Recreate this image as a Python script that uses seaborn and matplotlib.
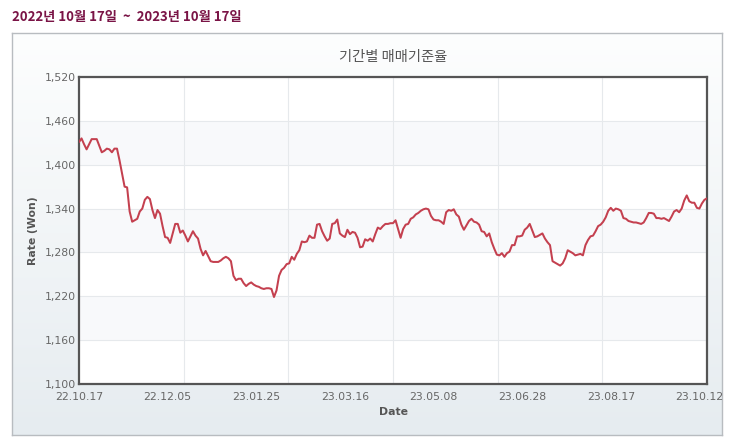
import numpy as np
import pandas as pd
import matplotlib
matplotlib.use("Agg")
import matplotlib.pyplot as plt
from matplotlib.colors import LinearSegmentedColormap
import seaborn as sns

# ---- data (USD/KRW daily base rate, one value per business day) ----
rates = [
    1431, 1436, 1428, 1421, 1428, 1435, 1435, 1435, 1426, 1417,
    1419, 1422, 1421, 1417, 1422, 1422, 1406, 1388, 1370, 1369,
    1336, 1322, 1324, 1326, 1336, 1340, 1352, 1356, 1353, 1338,
    1327, 1338, 1333, 1316, 1301, 1300, 1293, 1306, 1319, 1319,
    1307, 1310, 1303, 1295, 1302, 1309, 1303, 1299, 1285, 1276,
    1282, 1275, 1268, 1267, 1267, 1267, 1269, 1272, 1274, 1272,
    1268, 1248, 1242, 1244, 1244, 1238, 1234, 1237, 1239, 1236,
    1234, 1233, 1231, 1230, 1231, 1231, 1230, 1219, 1228, 1248,
    1256, 1259, 1264, 1265, 1274, 1270, 1278, 1283, 1295, 1294,
    1295, 1303, 1300, 1300, 1318, 1319, 1309, 1302, 1296, 1299,
    1319, 1320, 1325, 1306, 1303, 1301, 1311, 1305, 1308, 1307,
    1300, 1287, 1288, 1298, 1296, 1299, 1295, 1305, 1314, 1312,
    1316, 1319, 1319, 1320, 1320, 1324, 1312, 1300, 1312, 1318,
    1319, 1326, 1328, 1332, 1334, 1337, 1339, 1340, 1339, 1330,
    1325, 1324, 1324, 1322, 1319, 1335, 1338, 1337, 1339, 1332,
    1329, 1318, 1311, 1317, 1323, 1326, 1322, 1321, 1318, 1309,
    1308, 1302, 1306, 1294, 1285, 1277, 1276, 1279, 1274, 1279,
    1281, 1290, 1290, 1302, 1302, 1303, 1311, 1314, 1319, 1310,
    1301, 1302, 1304, 1306, 1299, 1294, 1290, 1268, 1266, 1264,
    1262, 1265, 1272, 1283, 1281, 1279, 1276, 1277, 1278, 1276,
    1290, 1297, 1302, 1303, 1309, 1316, 1318, 1322, 1328, 1337,
    1341, 1337, 1340, 1339, 1337, 1327, 1326, 1323, 1322, 1321,
    1321, 1320, 1319, 1321, 1327, 1334, 1334, 1333, 1327, 1327,
    1326, 1327, 1325, 1323, 1329, 1336, 1338, 1335, 1340, 1351,
    1358, 1350, 1348, 1348, 1341, 1340, 1347, 1352, 1354,
]
date_labels = ["22.10.17", "22.12.05", "23.01.25", "23.03.16",
               "23.05.08", "23.06.28", "23.08.17", "23.10.12"]
label_index = [0, 35, 70, 105, 140, 175, 210, 245]
y_ticks = [1100, 1160, 1220, 1280, 1340, 1400, 1460, 1520]
period_text = "2022년 10월 17일  ~  2023년 10월 17일"
chart_title = "기간별 매매기준율"

df = pd.DataFrame({"day": np.arange(len(rates)), "rate": rates})

sns.set_theme(style="white")
plt.rcParams["font.family"] = ["DejaVu Sans", "Noto Sans CJK KR"]

W, H = 734, 444
fig = plt.figure(figsize=(W / 100, H / 100), dpi=100)
fig.patch.set_facecolor("white")

# panel background with gradient
bg = fig.add_axes([12 / W, 1 - 435 / H, 710 / W, 402 / H])
grad = np.linspace(0, 1, 256).reshape(-1, 1)
cmap = LinearSegmentedColormap.from_list("g", ["#fdfefe", "#e6ecf0"])
bg.imshow(grad, aspect="auto", cmap=cmap, extent=[0, 1, 0, 1], origin="upper")
bg.set_xlim(0, 1); bg.set_ylim(0, 1)
bg.set_xticks([]); bg.set_yticks([])
for s in bg.spines.values():
    s.set_color("#b8bcc0"); s.set_linewidth(1.0)

fig.text(12 / W, 1 - 17 / H, period_text, color="#7a1446", fontsize=9.5,
         fontweight="bold", va="center", ha="left",
         family=["Noto Sans CJK KR", "DejaVu Sans"])
fig.text(393 / W, 1 - 57 / H, chart_title, color="#555555", fontsize=10.3,
         va="center", ha="center", family=["Noto Sans CJK KR", "DejaVu Sans"])

ax = fig.add_axes([79 / W, 1 - 384 / H, 628 / W, 307 / H])
ax.set_facecolor("white")
ax.set_zorder(2)

n = len(rates)
ax.set_xlim(0, n - 1)
ax.set_ylim(y_ticks[0], y_ticks[-1])

# alternating bands
for k in range(1, len(y_ticks) - 1, 2):
    ax.axhspan(y_ticks[k], y_ticks[k + 1], color="#f8f9fb", zorder=0, lw=0)

sns.lineplot(data=df, x="day", y="rate", ax=ax, color="#c4404f",
             linewidth=1.45, zorder=3)

ax.set_yticks(y_ticks)
ax.set_yticklabels([f"{v:,}" for v in y_ticks])
ax.set_xticks(label_index)
ax.set_xticklabels(date_labels)
ax.set_xticks(np.linspace(0, n - 1, 7), minor=True)
ax.grid(False)
ax.grid(True, axis="y", which="major", color="#e6e9ec", lw=0.8, zorder=1)
ax.grid(True, axis="x", which="minor", color="#e6e9ec", lw=0.8, zorder=1)
ax.tick_params(axis="both", which="both", length=0, colors="#666666",
               labelsize=7.8)
ax.tick_params(axis="y", pad=2)
ax.tick_params(axis="x", pad=6)
ax.set_xlabel("Date", fontsize=7.8, fontweight="bold", color="#555555",
              labelpad=3)
ax.set_ylabel("Rate (Won)", fontsize=7.8, fontweight="bold", color="#555555",
              labelpad=5)
for s in ax.spines.values():
    s.set_visible(True)
    s.set_color("#555555")
    s.set_linewidth(1.6)

fig.savefig("out.png", dpi=100)
